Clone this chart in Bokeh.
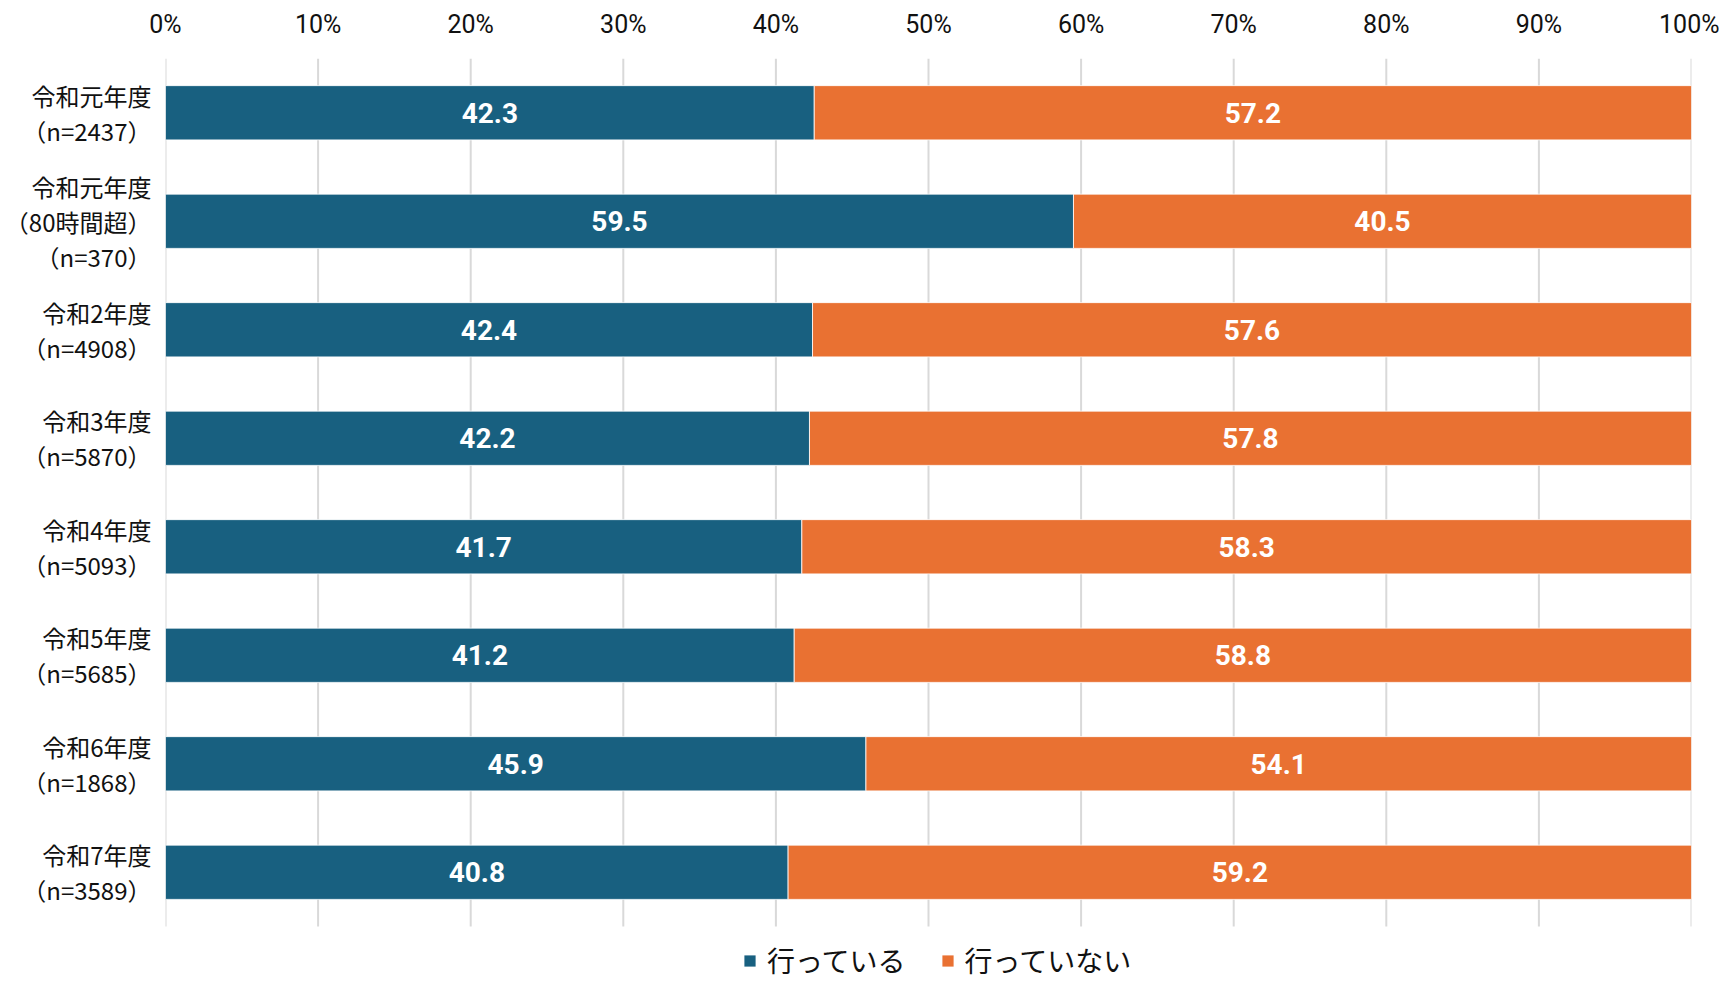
from bokeh.plotting import figure
from bokeh.models import (ColumnDataSource, Range1d, FixedTicker,
                          PrintfTickFormatter, Legend, LegendItem)
from bokeh.core.properties import value
from bokeh.embed import file_html
from bokeh.resources import INLINE

# ---------------- data ----------------
categories = [
    "令和元年度\n（n=2437）",
    "令和元年度\n（80時間超）\n（n=370）",
    "令和2年度\n（n=4908）",
    "令和3年度\n（n=5870）",
    "令和4年度\n（n=5093）",
    "令和5年度\n（n=5685）",
    "令和6年度\n（n=1868）",
    "令和7年度\n（n=3589）",
]
doing = [42.3, 59.5, 42.4, 42.2, 41.7, 41.2, 45.9, 40.8]
not_doing = [57.2, 40.5, 57.6, 57.8, 58.3, 58.8, 54.1, 59.2]
series_names = ["行っている", "行っていない"]
x_ticks = [0, 10, 20, 30, 40, 50, 60, 70, 80, 90, 100]

BLUE = "#186080"
ORANGE = "#e97132"
JP = "Noto Sans CJK JP"

n = len(categories)
pos = list(range(n))                      # row positions, top to bottom

# 100% stacked: normalise each row
totals = [a + b for a, b in zip(doing, not_doing)]
split = [a / t * 100 for a, t in zip(doing, totals)]
src = ColumnDataSource(dict(
    pos=pos,
    zero=[0] * n,
    split=split,
    full=[100] * n,
    mid1=[s / 2 for s in split],
    mid2=[(s + 100) / 2 for s in split],
    lab1=[f"{v:.1f}" for v in doing],
    lab2=[f"{v:.1f}" for v in not_doing],
))

# layout: plot area 1526 wide; 868 px for the rows, extra room below for legend
W, H = 1719, 980
LEFT, RIGHT, TOP = 165, 28, 58
ROWS_PX = 868
frame_h = H - TOP
band = ROWS_PX / n
y_bottom = -0.5 + frame_h / band

p = figure(width=W, height=H, output_backend="svg", toolbar_location=None,
           x_range=Range1d(0, 100), y_range=Range1d(y_bottom, -0.5),
           x_axis_location="above",
           min_border_left=LEFT, min_border_right=RIGHT, min_border_top=TOP,
           min_border_bottom=0)
p.outline_line_color = None
p.xgrid.grid_line_color = None
p.ygrid.grid_line_color = None

# vertical gridlines limited to the rows
p.segment(x0=x_ticks, x1=x_ticks, y0=[-0.5] * len(x_ticks),
          y1=[n - 0.5] * len(x_ticks), line_color="#d9d9d9", line_width=2)

r1 = p.hbar(y="pos", left="zero", right="split", height=0.5, source=src,
            fill_color=BLUE, line_color="white", line_width=0.8)
r2 = p.hbar(y="pos", left="split", right="full", height=0.5, source=src,
            fill_color=ORANGE, line_color="white", line_width=0.8)

for xcol, tcol in (("mid1", "lab1"), ("mid2", "lab2")):
    p.text(x=xcol, y="pos", text=tcol, source=src, text_color="white",
           text_font=value("Roboto"), text_font_style="bold",
           text_font_size="28px", text_align="center", text_baseline="middle")

# x axis (top)
xa = p.xaxis[0]
xa.ticker = FixedTicker(ticks=x_ticks)
xa.formatter = PrintfTickFormatter(format="%d%%")
xa.axis_line_color = None
xa.major_tick_line_color = None
xa.minor_tick_line_color = None
xa.major_label_text_font = "Roboto"
xa.major_label_text_font_size = "25px"
xa.major_label_text_color = "#111111"
xa.major_label_standoff = 14

# y axis with category labels
ya = p.yaxis[0]
ya.ticker = FixedTicker(ticks=pos)
ya.major_label_overrides = {i: c for i, c in zip(pos, categories)}
ya.axis_line_color = None
ya.major_tick_line_color = None
ya.minor_tick_line_color = None
ya.major_label_text_font = JP
ya.major_label_text_font_size = "24px"
ya.major_label_text_color = "#111111"
ya.major_label_text_line_height = 1.0
ya.major_label_standoff = 8

legend = Legend(items=[LegendItem(label=series_names[0], renderers=[r1]),
                       LegendItem(label=series_names[1], renderers=[r2])],
                orientation="horizontal", location=(577, 0),
                label_text_font=JP, label_text_font_size="28px",
                label_text_color="#111111",
                glyph_width=15, glyph_height=15, label_standoff=10,
                spacing=34, padding=0, margin=0,
                border_line_color=None, background_fill_alpha=0)
p.add_layout(legend)

open("out.html", "w").write(file_html(p, INLINE))
